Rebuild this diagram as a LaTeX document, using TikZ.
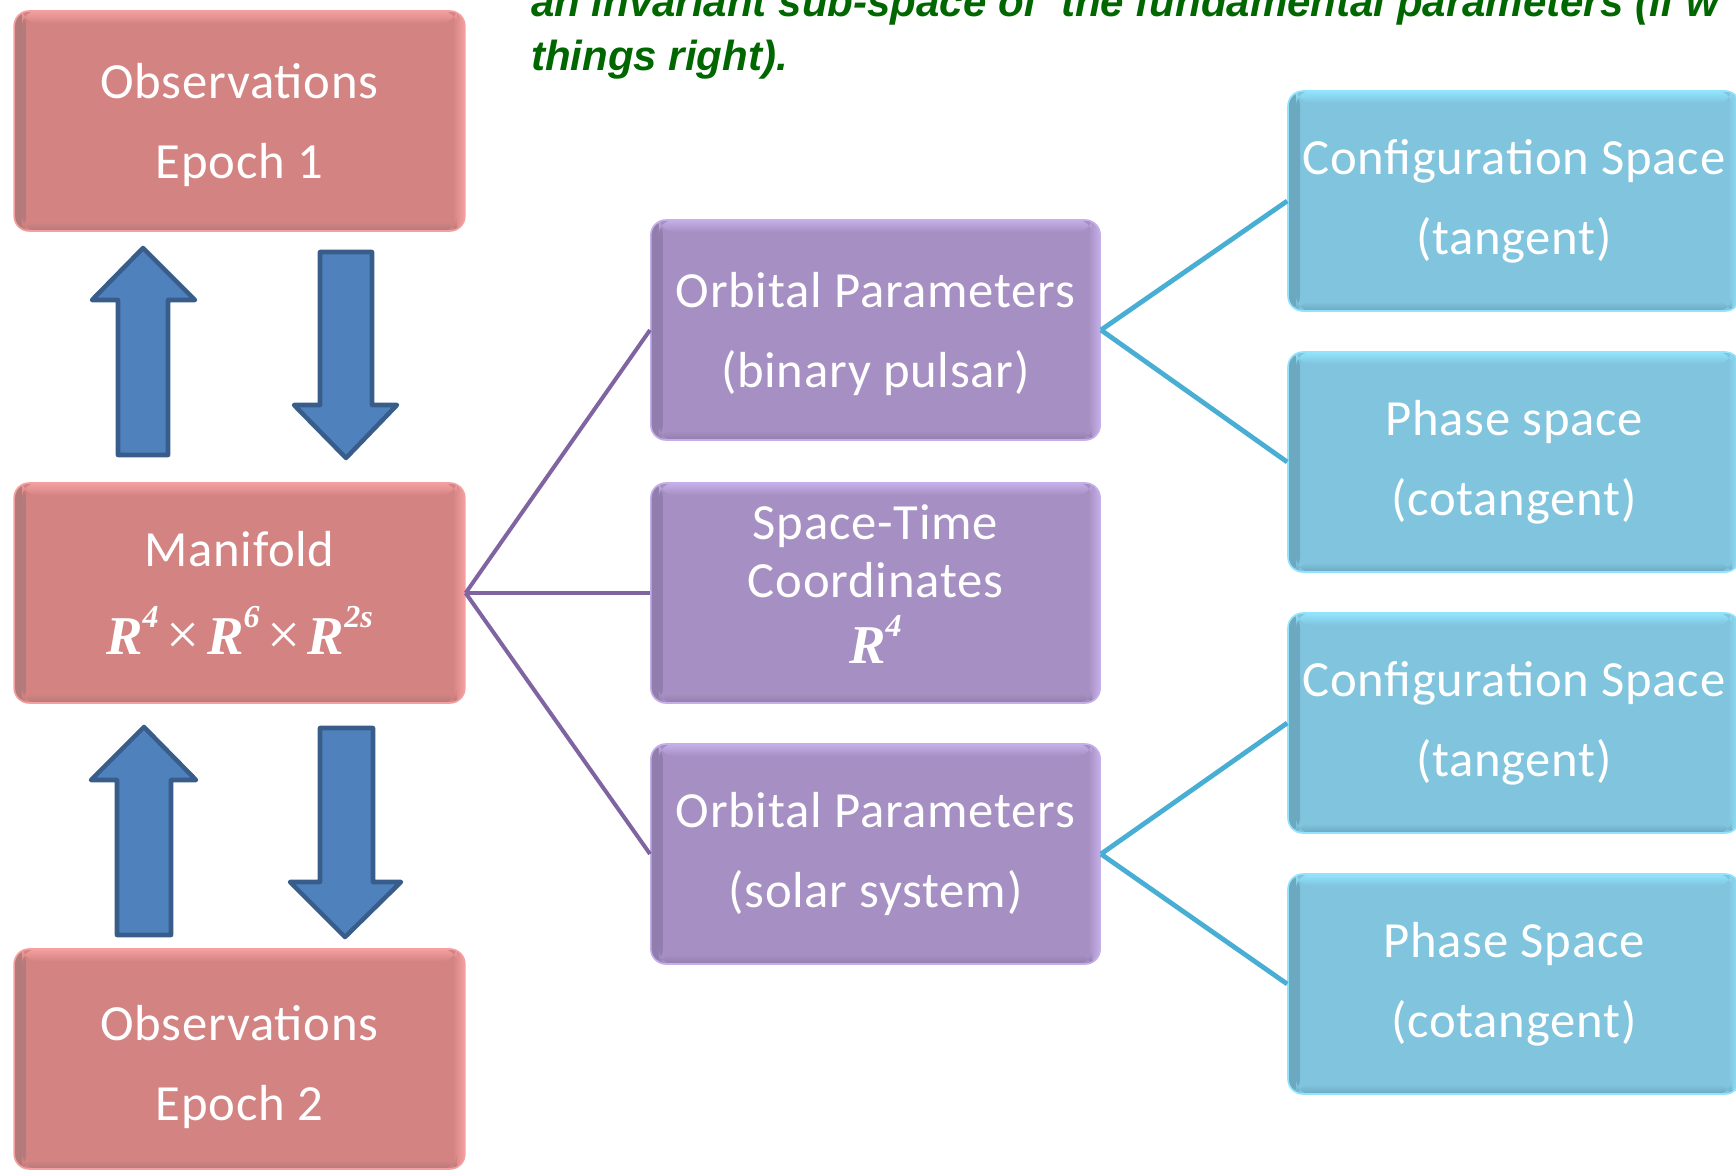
\documentclass[tikz,border=0pt]{standalone}
\usepackage{fontspec}
\setmainfont{Carlito}[LetterSpace=1.5]
\newfontfamily\formulafont{Liberation Serif}
\newfontfamily\headfont{Liberation Sans}

\definecolor{redbase}{RGB}{212,131,131}
\definecolor{redlight}{RGB}{245,160,160}
\definecolor{reddark}{RGB}{180,122,122}
\definecolor{purbase}{RGB}{166,143,194}
\definecolor{purlight}{RGB}{196,175,232}
\definecolor{purdark}{RGB}{146,126,174}
\definecolor{bluebase}{RGB}{128,196,222}
\definecolor{bluelight}{RGB}{146,228,252}
\definecolor{bluedark}{RGB}{108,168,192}
\definecolor{purline}{RGB}{128,100,162}
\definecolor{blueline}{RGB}{72,174,212}
\definecolor{arrowfill}{RGB}{79,129,189}
\definecolor{arrowedge}{RGB}{56,93,138}
\definecolor{titlegreen}{RGB}{0,102,0}

\newcommand\boxfont{\fontsize{38}{60}\selectfont}
\newcommand\Rpow[1]{R\raisebox{0.5em}{\fontsize{24}{24}\selectfont #1}}
\newcommand\crossop{\hspace{0.14em}{\mdseries\upshape\fontsize{44}{44}\selectfont ×}\hspace{0.14em}}
\newcommand\formula[1]{{\formulafont\bfseries\itshape\fontsize{41}{41}\selectfont #1}}

% soft bevel along the inner edges of a rounded box: base, light, dark
\newcommand\bevelfill[3]{%
  \shade[left color=#3, right color=#1]
    (path picture bounding box.north west) rectangle ([xshift=9pt]path picture bounding box.south west);
  \shade[right color=#2, left color=#1]
    (path picture bounding box.north east) rectangle ([xshift=-9pt]path picture bounding box.south east);
  \shade[top color=#2, bottom color=#1]
    ([xshift=6pt]path picture bounding box.north west) rectangle ([xshift=-6pt,yshift=-9pt]path picture bounding box.north east);
  \shade[bottom color=#3, top color=#1]
    ([xshift=6pt]path picture bounding box.south west) rectangle ([xshift=-6pt,yshift=7pt]path picture bounding box.south east);}

\tikzset{
  box/.style={rectangle, rounded corners=11.25pt, inner sep=0pt,
    align=center, text=white, font=\boxfont, line width=1.2pt},
  redbox/.style={box, fill=redbase, draw=redlight, minimum width=338pt, minimum height=165pt,
    path picture={\bevelfill{redbase}{redlight}{reddark}}},
  purbox/.style={box, fill=purbase, draw=purlight, minimum width=337pt, minimum height=165pt,
    path picture={\bevelfill{purbase}{purlight}{purdark}}},
  bluebox/.style={box, fill=bluebase, draw=bluelight, minimum width=339pt, minimum height=165pt,
    path picture={\bevelfill{bluebase}{bluelight}{bluedark}}},
  purconn/.style={draw=purline, line width=3pt},
  blueconn/.style={draw=blueline, line width=3.6pt},
  blockarrow/.style={fill=arrowfill, draw=arrowedge, line width=3.4pt, line join=round},
  titletext/.style={anchor=base west, inner sep=0pt, text=titlegreen,
    font=\headfont\bfseries\itshape\fontsize{31.5}{40}\selectfont}
}

\begin{document}
\begin{tikzpicture}[x=0.75pt,y=-0.75pt]
\useasboundingbox (0,0) rectangle (1736,1171);
\clip (0,0) rectangle (1736,1171);

% heading text
\node[titletext] (head1) at (531,16) {an invariant sub-space of~ the fundamental parameters (if w};
\node[titletext] (head2) at (531,70) {things right).};

% left column
\node[redbox] (obs1) at (239.5,121) {\rule{0pt}{32pt}Observations\\Epoch 1};
\node[redbox] (man) at (239.5,593) {Manifold\\[6pt]\formula{\Rpow{4}\crossop\Rpow{6}\crossop\Rpow{2s}}};
\node[redbox] (obs2) at (239.5,1059) {\rule{0pt}{38pt}Observations\\Epoch 2};

% middle column
\node[purbox] (op1) at (875.5,330) {\rule{0pt}{32pt}Orbital Parameters\\(binary pulsar)};
\node[purbox, font=\fontsize{38}{43}\selectfont] (st) at (875.5,593)
  {Space-Time\\Coordinates\\[7pt]\formula{\Rpow{4}}\rule[-13pt]{0pt}{0pt}};
\node[purbox] (op2) at (875.5,854) {Orbital Parameters\\(solar system)};

% right column
\node[bluebox] (cs1) at (1514,201) {Configuration Space\\(tangent)};
\node[bluebox] (ps1) at (1514,462) {Phase space\\(cotangent)};
\node[bluebox] (cs2) at (1514,723) {Configuration Space\\(tangent)};
\node[bluebox] (ps2) at (1514,984) {Phase Space\\(cotangent)};

% connectors
\draw[purconn] (man.east) -- (op1.west);
\draw[purconn] (man.east) -- (st.west);
\draw[purconn] (man.east) -- (op2.west);
\draw[blueconn] (op1.east) -- (cs1.west);
\draw[blueconn] (op1.east) -- (ps1.west);
\draw[blueconn] (op2.east) -- (cs2.west);
\draw[blueconn] (op2.east) -- (ps2.west);

% block arrows between observations and manifold
\draw[blockarrow] (143,248) -- (195,300) -- (168,300) -- (168,455) -- (118,455) -- (118,300) -- (92,300) -- cycle;
\draw[blockarrow] (346,458) -- (397,405) -- (372,405) -- (372,252) -- (320,252) -- (320,405) -- (294,405) -- cycle;
\draw[blockarrow] (144,727) -- (196,780) -- (171,780) -- (171,935) -- (117,935) -- (117,780) -- (91,780) -- cycle;
\draw[blockarrow] (345,937) -- (401,882) -- (373,882) -- (373,728) -- (320,728) -- (320,882) -- (290,882) -- cycle;
\end{tikzpicture}
\end{document}
